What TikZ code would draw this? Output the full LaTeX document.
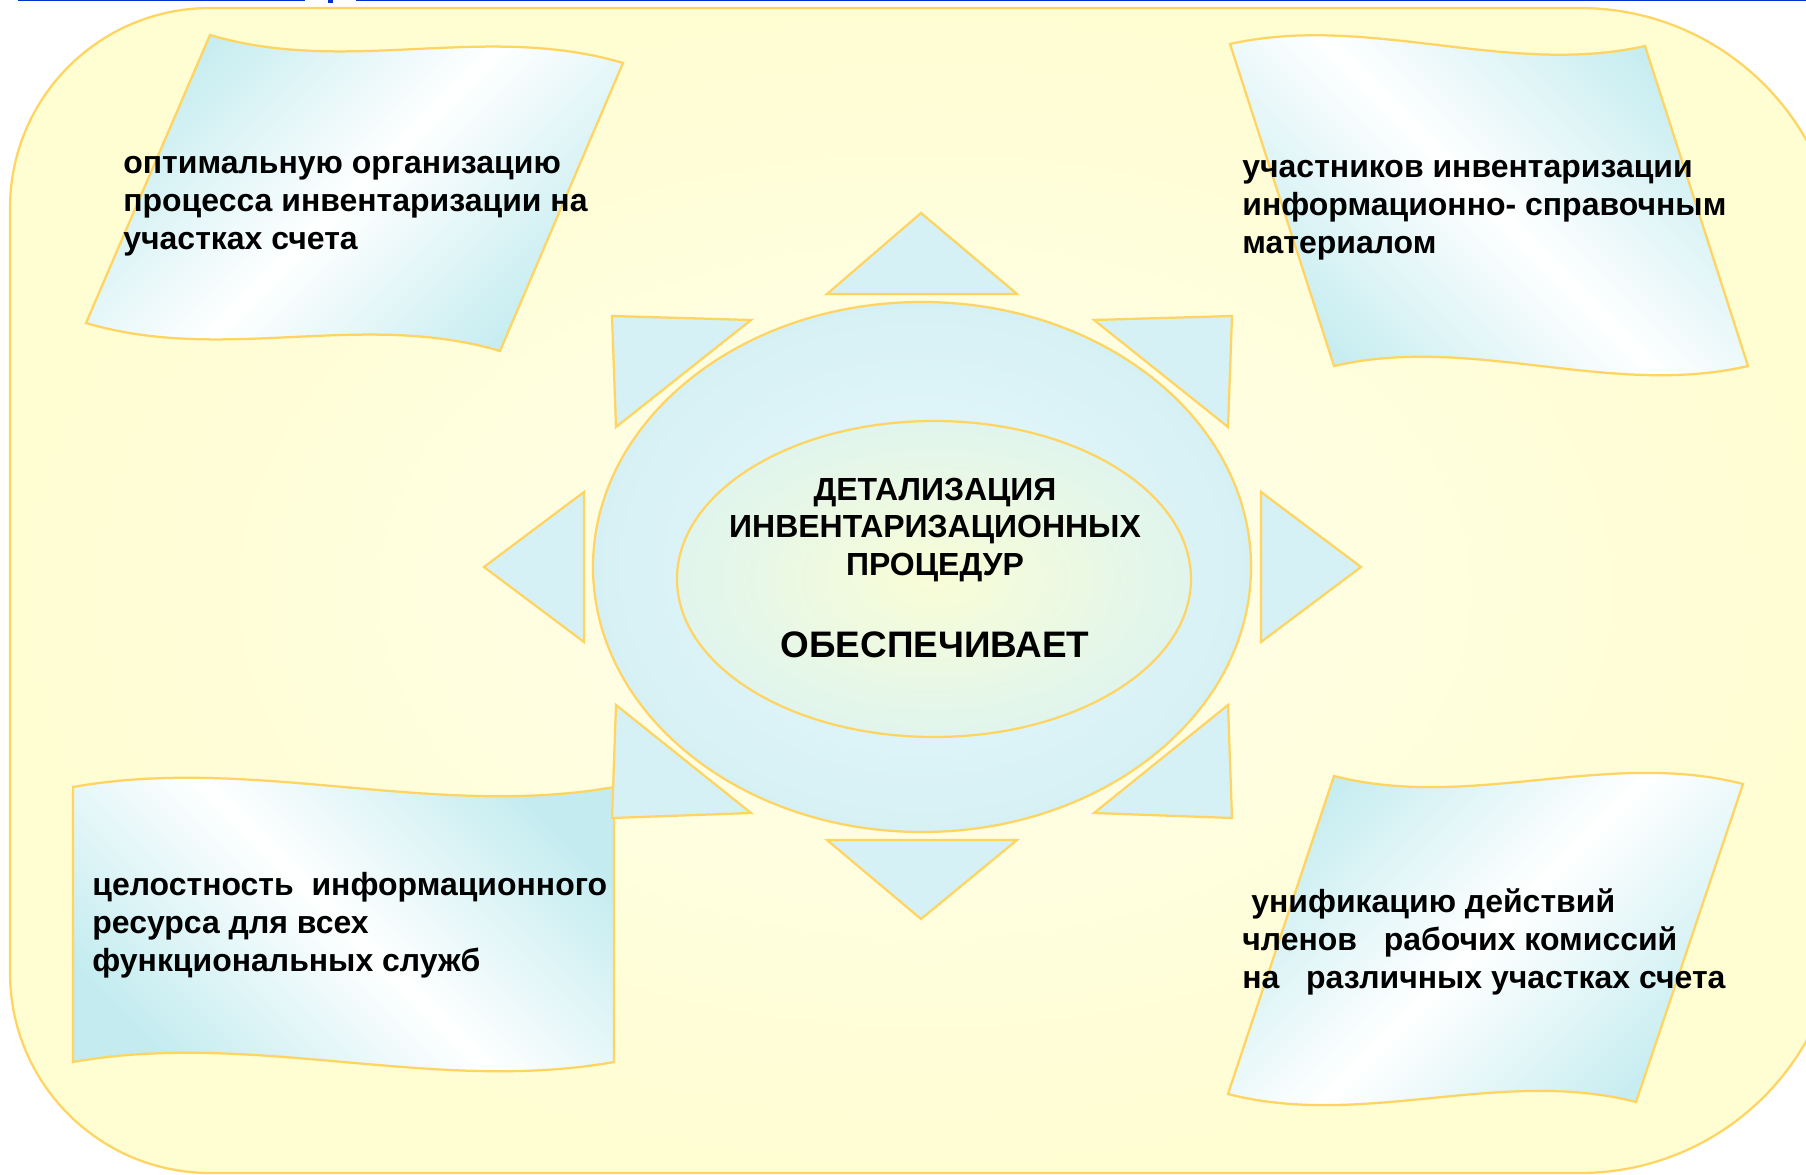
\documentclass[tikz,border=0pt]{standalone}
\usepackage{fontspec}
\setmainfont{Liberation Sans}
\usetikzlibrary{shadings}

\definecolor{frame}{RGB}{255,212,96}
\definecolor{paper}{RGB}{255,253,210}
\definecolor{paperlight}{RGB}{255,255,236}
\definecolor{flagcyan}{RGB}{196,236,240}
\definecolor{raycyan}{RGB}{214,241,245}
\definecolor{sunlight}{RGB}{233,248,252}
\definecolor{coreyellow}{RGB}{249,253,214}
\definecolor{coreedge}{RGB}{224,245,238}
\definecolor{titleblue}{RGB}{0,51,204}

\pgfdeclarehorizontalshading{flagshade}{100bp}{color(0bp)=(flagcyan); color(25bp)=(flagcyan); color(50bp)=(white); color(75bp)=(flagcyan); color(100bp)=(flagcyan)}

\newcommand{\flagfont}{\fontsize{18.2}{21.6}\selectfont\bfseries}

\tikzset{
  flag/.style={draw=frame, line width=0.045cm, shading=flagshade},
  ray/.style={draw=frame, line width=0.045cm, fill=raycyan},
  flagtext/.style={anchor=west, align=left, inner sep=0pt, font=\flagfont},
}

\begin{document}
\begin{tikzpicture}[x=0.02cm, y=-0.02cm]
        \clip (0,0) rectangle (1806,1175);

        % Backdrop
        \path[draw=frame, line width=0.045cm, inner color=paperlight, outer color=paper]
          (210,8) -- (1580,8) arc[start angle=-90, end angle=0, radius=260]
          -- (1840,913) arc[start angle=0, end angle=90, radius=260]
          -- (210,1173) arc[start angle=90, end angle=180, radius=200]
          -- (10,208) arc[start angle=180, end angle=270, radius=200] -- cycle;
        \draw[titleblue, line width=0.03cm] (18,0.5) -- (305,0.5);
        \fill[titleblue] (328,0) rectangle (333,3);
        \draw[titleblue, line width=0.03cm] (356,0.5) -- (1806,0.5);

        % Flags
        \path[flag, shading angle=-45] (210,35) .. controls (348,76) and (485,22) .. (623,63)
          -- (500,351) .. controls (362,310) and (224,364) .. (86,323) -- cycle;
        \path[flag, shading angle=45] (1230,44) .. controls (1368,13) and (1507,77) .. (1645,46)
          -- (1748,366) .. controls (1610,398) and (1472,334) .. (1334,366) -- cycle;
        \path[flag, shading angle=45] (73,787) .. controls (253,755) and (434,819) .. (614,787)
          -- (614,1062) .. controls (434,1094) and (253,1030) .. (73,1062) -- cycle;
        \path[flag, shading angle=-45] (1334,776) .. controls (1470,811) and (1607,749) .. (1743,784)
          -- (1636,1102) .. controls (1500,1067) and (1364,1129) .. (1228,1094) -- cycle;

        % Rays
        \path[ray] (921,213) -- (1017,294) -- (827,294) -- cycle;
        \path[ray] (921,919) -- (1017,840) -- (827,840) -- cycle;
        \path[ray] (484,567) -- (584,492) -- (584,642) -- cycle;
        \path[ray] (1361,567) -- (1261,492) -- (1261,642) -- cycle;
        \path[ray] (612,316) -- (751,320) -- (616,427) -- cycle;
        \path[ray] (1232,316) -- (1094,320) -- (1228,427) -- cycle;
        \path[ray] (616,705) -- (751,813) -- (612,818) -- cycle;
        \path[ray] (1228,705) -- (1094,813) -- (1232,818) -- cycle;

        % Sun
        \path[draw=frame, line width=0.045cm, inner color=sunlight, outer color=raycyan]
          (922,567) ellipse [x radius=329, y radius=265];
        \path[draw=frame, line width=0.045cm, inner color=coreyellow, outer color=coreedge]
          (934,579) ellipse [x radius=257, y radius=158];

        % Texts
        \node (title) [align=center, inner sep=0pt, font=\flagfont] at (935,530) {ДЕТАЛИЗАЦИЯ\\ИНВЕНТАРИЗАЦИОННЫХ\\ПРОЦЕДУР};
        \node (provides) [inner sep=0pt, font=\fontsize{21}{25}\selectfont\bfseries] at (935,645) {ОБЕСПЕЧИВАЕТ};
        \node (optimal) [flagtext] at (123,206) {оптимальную организацию\\процесса инвентаризации на\\участках счета};
        \node (informing) [flagtext] at (1242,210) {участников инвентаризации\\информационно- справочным\\материалом};
        \node (integrity) [flagtext] at (92,925) {целостность\ \ информационного\\ресурса для всех\\функциональных служб};
        \node (unification) [flagtext] at (1242,942) {\hspace*{0.28em}унификацию действий\\членов\ \ \ рабочих комиссий\\на\ \ \ различных участках счета};
    \end{tikzpicture}
\end{document}
